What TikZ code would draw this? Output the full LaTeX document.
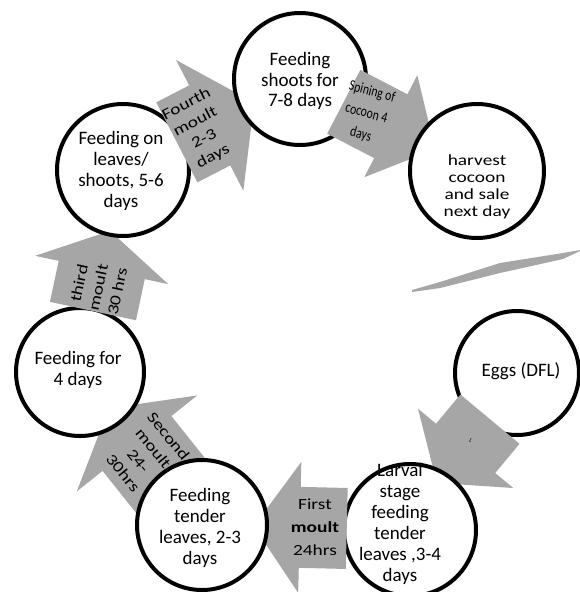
\documentclass[tikz,border=0pt]{standalone}
\usepackage{fontspec}
\setmainfont{Carlito}
\newfontfamily\widefont{Carlito}[FakeStretch=1.25]
\usetikzlibrary{calc}
\definecolor{arrowgray}{RGB}{166,166,166}
\tikzset{
  stage/.style={circle, draw=black, line width=4pt, fill=white, inner sep=0pt},
  stagetext/.style={align=center, inner sep=0pt, font=\fontsize{19}{20.5}\selectfont},
  widetext/.style={align=center, inner sep=0pt, font=\widefont\fontsize{15.5}{19.5}\selectfont},
  spinfont/.style={align=center, inner sep=0pt, font=\fontsize{15}{22}\selectfont},
}
% block arrow from #1 towards #2; head base at fraction #3;
% #4 body length behind head, #5 body width, #6 head width, #7 head length, #8 extra turn
\newcommand{\moultarrow}[8]{%
  \path let \p1=($(#2)-(#1)$) in \pgfextra{\pgfmathsetmacro{\arrang}{atan2(\y1,\x1)+#8}\xdef\arrang{\arrang}};
  \fill[arrowgray, shift={($(#1)!#3!(#2)$)}, rotate=\arrang]
    (-#4,-#5/2) -- (0,-#5/2) -- (0,-#6/2) -- (#7,0) -- (0,#6/2) -- (0,#5/2) -- (-#4,#5/2) -- cycle;}
\begin{document}
\begin{tikzpicture}[x=1pt,y=-1pt]
\useasboundingbox (0,0) rectangle (580,592);
\clip (0,0) rectangle (580,592);
% stage centres
\coordinate (eggs) at (517,373);
\coordinate (larval) at (410,530);
\coordinate (tender) at (202,525);
\coordinate (four) at (80,372);
\coordinate (left) at (123,170);
\coordinate (top) at (300,79);
\coordinate (harv) at (477,171);
% cycle of stages and block arrows
\node[stage, minimum size=124pt] (eggsc) at (eggs) {};
\moultarrow{eggs}{larval}{0.48}{38}{77}{124}{45}{-5.5}
\node[stage, minimum size=132pt] (larvalc) at (larval) {};
\moultarrow{larval}{tender}{0.53}{47}{81}{131}{46}{0}
\moultarrow{tender}{four}{0.533}{60}{88}{154}{45}{0}
\node[stage, minimum size=130pt] (tenderc) at (tender) {};
\node[stage, minimum size=128pt] (fourc) at (four) {};
\moultarrow{four}{left}{0.505}{42}{88}{136}{40}{0}
\node[stage, minimum size=132pt] (leftc) at (left) {};
\moultarrow{left}{top}{0.49}{37}{90}{147}{50}{0}
\node[stage, minimum size=132pt] (topc) at (top) {};
\moultarrow{top}{harv}{0.513}{53}{72}{115}{50}{0}
\node[stage, minimum size=134pt] (harvc) at (harv) {};
% stray sliver
\fill[arrowgray] (412,290) -- (440,282) -- (500,263) -- (563,253) -- (580,250) -- (580,251)
  -- (563,259) -- (500,273) -- (440,288) -- (412,292) -- cycle;
% stage texts
\node[stagetext] (toptext) at (300,81) {Feeding\\shoots for\\7-8 days};
\node[widetext, font=\widefont\fontsize{15.5}{17}\selectfont] (harvtext) at (477,187) {harvest\\cocoon\\and sale\\next day};
\node[stagetext, font=\fontsize{19}{21}\selectfont] (lefttext) at (121,171) {Feeding on\\leaves/\\shoots, 5-6\\days};
\node[stagetext] (fourtext) at (78,370) {Feeding for\\4 days};
\node[stagetext, font=\fontsize{19}{21}\selectfont] (tendertext) at (200,528) {Feeding\\tender\\leaves, 2-3\\days};
\node[stagetext, font=\fontsize{19}{21}\selectfont] (larvaltext) at (400,524) {Larval\\stage\\feeding\\tender\\leaves ,3-4\\days};
\node[stagetext] (eggstext) at (521,371) {Eggs (DFL)};
% arrow texts
\node[font=\fontsize{6}{6}\selectfont, rotate=-30, inner sep=0pt] (eggsmark) at ($(eggs)!0.43!(larval)$) {L};
\node[widetext, font=\widefont\fontsize{15.5}{23}\selectfont] (firstlabel) at ($(larval)!0.457!(tender)$) {First\\\textbf{moult}\\24hrs};
\node[widetext, rotate=-51] (secondlabel) at ($(tender)!0.46!(four)$) {Second\\moult\\24-\\30hrs};
\node[widetext, rotate=78] (thirdlabel) at ($(four)!0.42!(left)$) {third\\moult\\30 hrs};
\node[widetext, rotate=27] (fourthlabel) at ($(left)!0.434!(top)$) {Fourth\\moult\\2-3\\days};
\node[spinfont, rotate=-15, xscale=0.78] (spinlabel) at ($(top)!0.375!(harv)$) {Spining of\\cocoon 4\\days};
\end{tikzpicture}
\end{document}
